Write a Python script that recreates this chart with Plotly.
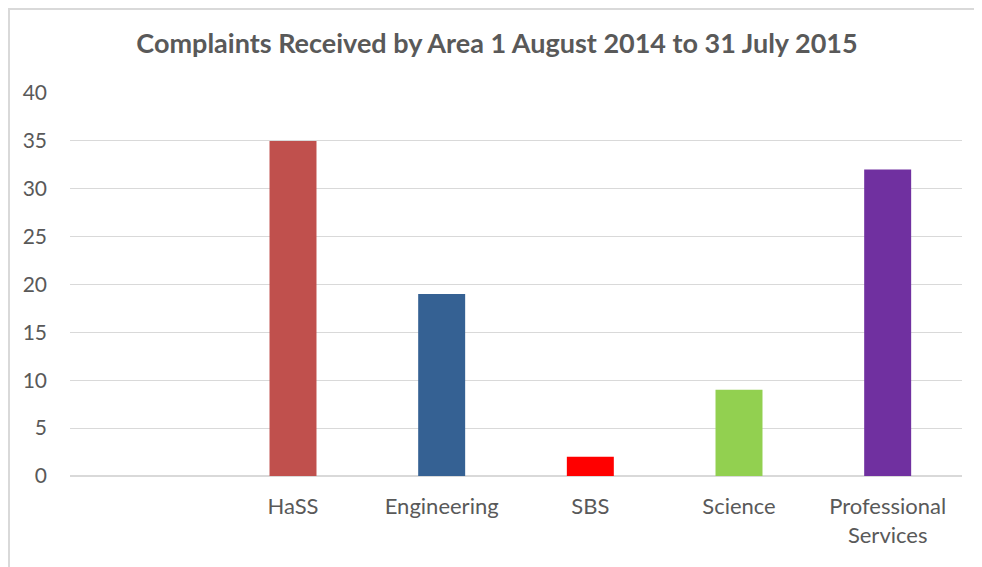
import plotly.graph_objects as go

categories = [" ", "HaSS", "Engineering", "SBS", "Science", "Professional<br>Services"]
values = [None, 35, 19, 2, 9, 32]
colors = ["#ffffff", "#c0504d", "#356193", "#ff0000", "#92d050", "#7030a0"]
y_ticks = [0, 5, 10, 15, 20, 25, 30, 35, 40]

fig = go.Figure(go.Bar(x=categories, y=values, marker=dict(color=colors, line=dict(width=0)),
                       hoverinfo="x+y"))

# page body has an 8px margin; compensate so the plot lands where the reference has it
OFF = 8
W, H = 982 - OFF, 567 - OFF
ml, mr, mt, mb = 70 - OFF, 20, 93 - OFF, 91
pw, ph = W - ml - mr, H - mt - mb

fig.update_layout(
    width=W, height=H,
    margin=dict(l=ml, r=mr, t=mt, b=mb, pad=0),
    paper_bgcolor="white", plot_bgcolor="white",
    bargap=0.684,
    showlegend=False,
    font=dict(family="Lato, Open Sans, sans-serif", color="#595959", size=21),
    title=dict(text="<b>Complaints Received by Area 1 August 2014 to 31 July 2015</b>",
               x=(497 - OFF) / W, xanchor="center", y=1 - (44 - OFF) / H, yanchor="middle",
               font=dict(size=27, color="#595959", family="Lato, Open Sans, sans-serif")),
    xaxis=dict(showgrid=False, showline=True, linecolor="#d9d9d9", linewidth=1,
               ticks="", tickfont=dict(size=22), ticklabelstandoff=11, fixedrange=True),
    yaxis=dict(range=[0, 40], tickvals=y_ticks, showgrid=True, gridcolor="#d9d9d9", gridwidth=1,
               zeroline=True, zerolinecolor="#d9d9d9", showline=False, ticks="",
               tickfont=dict(size=21), ticklabelstandoff=22, fixedrange=True),
    shapes=[
        dict(type="line", xref="paper", yref="paper",
             x0=(0 - ml) / pw, x1=(W - ml) / pw, y0=(H - mb - 1) / ph, y1=(H - mb - 1) / ph,
             line=dict(color="#d9d9d9", width=2)),
        dict(type="line", xref="paper", yref="paper",
             x0=(1 - ml) / pw, x1=(1 - ml) / pw, y0=(H - mb) / ph, y1=(H - mb - H) / ph,
             line=dict(color="#d9d9d9", width=2)),
    ],
)

fig.write_html("out.html")
